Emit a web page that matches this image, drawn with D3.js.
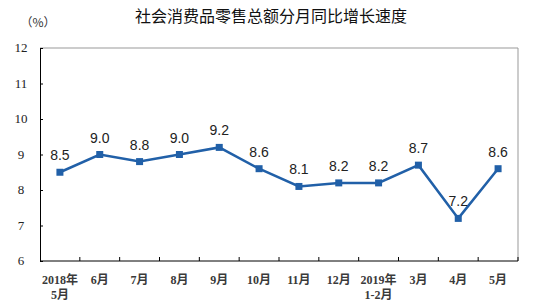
<!DOCTYPE html>
<html>
<head>
<meta charset="utf-8">
<script src="https://cdn.jsdelivr.net/npm/d3@7"></script>
<style>
  body { margin: 0; background: #fff; }
  svg { display: block; }
</style>
</head>
<body>
<svg id="chart" width="543" height="301"></svg>
<script>
// 数据
const categories = ['2018年\n5月', '6月', '7月', '8月', '9月', '10月', '11月', '12月', '2019年\n1-2月', '3月', '4月', '5月']
const values = [8.5, 9.0, 8.8, 9.0, 9.2, 8.6, 8.1, 8.2, 8.2, 8.7, 7.2, 8.6]
const yTicks = [6, 7, 8, 9, 10, 11, 12]

const svg = d3.select('#chart')
const margin = { left: 40, right: 25, top: 48, bottom: 40 }
const width = 543
const height = 301
const tickFont = '"Liberation Serif", "Noto Sans CJK SC", serif'

const x = d3.scaleBand()
  .domain(categories)
  .range([margin.left, width - margin.right])
const y = d3.scaleLinear()
  .domain([6, 12])
  .range([height - margin.bottom, margin.top])

// 标题
svg.append('text')
  .attr('x', 271)
  .attr('y', 22)
  .attr('text-anchor', 'middle')
  .attr('font-family', '"Noto Sans CJK SC", sans-serif')
  .attr('font-size', 16)
  .attr('fill', '#111')
  .text('社会消费品零售总额分月同比增长速度')

svg.append('text')
  .attr('x', 38)
  .attr('y', 27)
  .attr('text-anchor', 'middle')
  .attr('font-family', '"Noto Sans CJK SC", sans-serif')
  .attr('font-size', 12)
  .attr('fill', '#333')
  .text('（%）')

// 边框（上、右）
svg.append('path')
  .attr('d', `M${margin.left},${y(12)}H${width - margin.right}V${y(6)}`)
  .attr('fill', 'none')
  .attr('stroke', '#999')
  .attr('stroke-width', 1)

// y轴
const yAxis = svg.append('g')
  .attr('transform', `translate(${margin.left},0)`)
  .call(d3.axisRight(y).tickValues(yTicks).tickSize(3).tickFormat(''))
yAxis.select('.domain').attr('stroke', '#000')
yAxis.selectAll('.tick line').attr('stroke', '#000')
svg.selectAll('.ylab')
  .data(yTicks)
  .enter()
  .append('text')
  .attr('class', 'ylab')
  .attr('x', 21)
  .attr('y', d => y(d) + 4)
  .attr('text-anchor', 'middle')
  .attr('font-family', tickFont)
  .attr('font-size', 13)
  .attr('fill', '#222')
  .text(d => d)

// x轴
svg.append('line')
  .attr('x1', margin.left)
  .attr('x2', width - margin.right)
  .attr('y1', y(6))
  .attr('y2', y(6))
  .attr('stroke', '#000')
svg.selectAll('.xtick')
  .data(categories)
  .enter()
  .append('line')
  .attr('class', 'xtick')
  .attr('x1', d => x(d) + x.bandwidth())
  .attr('x2', d => x(d) + x.bandwidth())
  .attr('y1', y(6))
  .attr('y2', y(6) - 4)
  .attr('stroke', '#000')

const xLabels = svg.selectAll('.xlab')
  .data(categories)
  .enter()
  .append('text')
  .attr('class', 'xlab')
  .attr('text-anchor', 'middle')
  .attr('font-family', tickFont)
  .attr('font-size', 12)
  .attr('font-weight', 'bold')
  .attr('fill', '#3a3a3a')
xLabels.selectAll('tspan')
  .data(d => d.split('\n').map(t => ({ t, c: d })))
  .enter()
  .append('tspan')
  .attr('x', d => x(d.c) + x.bandwidth() / 2)
  .attr('y', (d, i) => 284 + i * 15)
  .text(d => d.t)

// 折线
const cx = (d, i) => x(categories[i]) + x.bandwidth() / 2
const line = d3.line()
  .x(cx)
  .y(d => y(d))
svg.append('path')
  .datum(values)
  .attr('d', line)
  .attr('fill', 'none')
  .attr('stroke', '#2160a8')
  .attr('stroke-width', 2.5)

svg.selectAll('.pt')
  .data(values)
  .enter()
  .append('rect')
  .attr('class', 'pt')
  .attr('x', (d, i) => cx(d, i) - 3.5)
  .attr('y', d => y(d) - 3.5)
  .attr('width', 7)
  .attr('height', 7)
  .attr('fill', '#2160a8')

svg.selectAll('.vlab')
  .data(values)
  .enter()
  .append('text')
  .attr('class', 'vlab')
  .attr('x', cx)
  .attr('y', d => y(d) - 12)
  .attr('text-anchor', 'middle')
  .attr('font-family', '"Liberation Sans", Arial, sans-serif')
  .attr('font-size', 14)
  .attr('fill', '#222')
  .text(d => d.toFixed(1))
</script>
</body>
</html>
